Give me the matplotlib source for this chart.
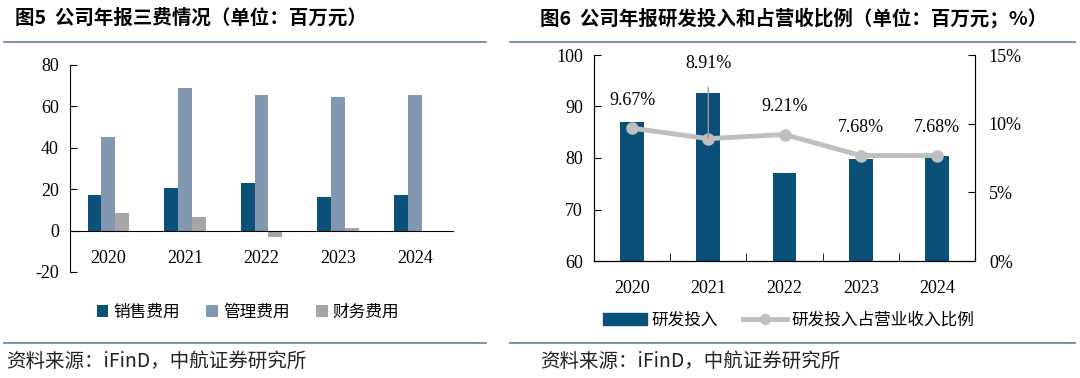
import numpy as np
import matplotlib
matplotlib.use("Agg")
import matplotlib.pyplot as plt
from matplotlib.lines import Line2D
from matplotlib.patches import Patch

plt.rcParams['font.family'] = ['Liberation Serif', 'Noto Sans CJK SC', 'DejaVu Sans']
plt.rcParams['axes.unicode_minus'] = False

years = ['2020', '2021', '2022', '2023', '2024']

# 图5 三费 (百万元)
sales_fee = [17.3, 20.7, 22.8, 16.4, 17.2]
admin_fee = [45.3, 69.1, 65.4, 64.6, 65.5]
fin_fee = [8.7, 6.7, -2.9, 1.4, -0.5]
fee_names = ['销售费用', '管理费用', '财务费用']

# 图6 研发投入 (百万元) 和占营收比例 (%)
rd_spend = [86.9, 92.6, 77.1, 79.9, 80.4]
rd_ratio = [9.67, 8.91, 9.21, 7.68, 7.68]
rd_names = ['研发投入', '研发投入占营业收入比例']

c_dark = '#0B5079'
c_slate = '#8497B0'
c_gray = '#A6A6A6'
c_line = '#BFBFBF'
c_rule = '#6F8AAE'
cjk = ['Noto Sans CJK SC', 'DejaVu Sans']

fig = plt.figure(figsize=(10.8, 3.78), dpi=100)

# titles, rules, sources
fig.text(15/1080, 1-18/378, '图5  公司年报三费情况（单位：百万元）', family=cjk,
         fontsize=14, fontweight='bold', va='center', ha='left')
fig.text(540/1080, 1-18/378, '图6  公司年报研发投入和占营收比例（单位：百万元；%）', family=cjk,
         fontsize=14, fontweight='bold', va='center', ha='left')
for y in [42, 343]:
    fig.add_artist(Line2D([4/1080, 486/1080], [1-y/378, 1-y/378], color=c_rule, lw=1.3))
    fig.add_artist(Line2D([510/1080, 1075/1080], [1-y/378, 1-y/378], color=c_rule, lw=1.3))
fig.text(6/1080, 1-361/378, '资料来源：iFinD，中航证券研究所', family=cjk,
         fontsize=14, va='center', ha='left', color='#222222')
fig.text(540/1080, 1-361/378, '资料来源：iFinD，中航证券研究所', family=cjk,
         fontsize=14, va='center', ha='left', color='#222222')

# ---- left chart
ax1 = fig.add_axes([70/1080, 1-272/378, 383/1080, 207/378])
x = np.arange(len(years))
w = 0.18
ax1.bar(x - w, sales_fee, w, color=c_dark, label=fee_names[0])
ax1.bar(x, admin_fee, w, color=c_slate, label=fee_names[1])
ax1.bar(x + w, fin_fee, w, color=c_gray, label=fee_names[2])
ax1.set_xlim(-0.5, 4.5)
ax1.set_ylim(-20, 80)
ax1.set_yticks([-20, 0, 20, 40, 60, 80])
ax1.set_xticks(x)
ax1.set_xticklabels(years)
ax1.spines['top'].set_visible(False)
ax1.spines['right'].set_visible(False)
ax1.spines['bottom'].set_position(('data', 0))
ax1.tick_params(axis='y', direction='in', length=5, labelsize=13, pad=8)
ax1.tick_params(axis='x', length=0, labelsize=13, pad=14)
ax1.legend(loc='center', bbox_to_anchor=(248/1080, 1-312/378), bbox_transform=fig.transFigure,
           ncol=3, frameon=False, prop={'family': cjk, 'size': 12},
           handlelength=0.7, handleheight=0.7, handletextpad=0.3, columnspacing=1.6)

# ---- right chart
ax2 = fig.add_axes([594/1080, 1-261/378, 381/1080, 206/378])
ax2.bar(x, rd_spend, 0.31, color=c_dark)
ax2.set_xlim(-0.5, 4.5)
ax2.set_ylim(60, 100)
ax2.set_yticks([60, 70, 80, 90, 100])
ax2.set_xticks(x)
ax2.set_xticklabels(years)
ax2.set_xticks(np.arange(0.5, 4, 1), minor=True)
ax2.spines['top'].set_visible(False)
ax2.tick_params(axis='y', direction='in', length=5, labelsize=13, pad=8)
ax2.tick_params(axis='x', which='major', length=0, labelsize=13, pad=14)
ax2.tick_params(axis='x', which='minor', direction='in', length=6)

ax3 = ax2.twinx()
ax3.plot(x, rd_ratio, color=c_line, lw=3.5, marker='o', ms=8)
ax3.set_ylim(0, 15)
ax3.set_yticks([0, 5, 10, 15])
ax3.set_yticklabels(['0%', '5%', '10%', '15%'])
ax3.spines['top'].set_visible(False)
ax3.tick_params(axis='y', direction='in', length=5, labelsize=13, pad=10)
for i, v in enumerate(rd_ratio):
    if i == 1:
        ax3.annotate(f'{v:.2f}%', xy=(i, v), xytext=(0, 54), textcoords='offset points',
                     ha='center', va='center', fontsize=13,
                     arrowprops=dict(arrowstyle='-', color='#999999', lw=1, shrinkA=9, shrinkB=0))
    else:
        ax3.annotate(f'{v:.2f}%', xy=(i, v), xytext=(0, 20), textcoords='offset points',
                     ha='center', va='center', fontsize=13)

handles = [Patch(color=c_dark),
           Line2D([], [], color=c_line, lw=3.5, marker='o', ms=7)]
ax2.legend(handles, rd_names, loc='center', bbox_to_anchor=(789/1080, 1-320/378),
           bbox_transform=fig.transFigure, ncol=2, frameon=False,
           prop={'family': cjk, 'size': 12}, handlelength=2.6, handleheight=0.7,
           handletextpad=0.3, columnspacing=1.5)

fig.savefig('out.png', dpi=100)
